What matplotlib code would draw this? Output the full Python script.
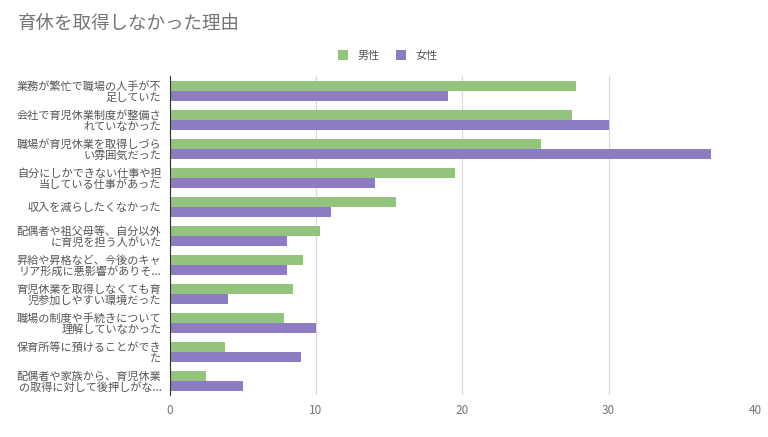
import numpy as np
import matplotlib.pyplot as plt

plt.rcParams['font.family'] = ['Noto Sans CJK JP', 'DejaVu Sans']

reasons = [
    '業務が繁忙で職場の人手が不\n足していた',
    '会社で育児休業制度が整備さ\nれていなかった',
    '職場が育児休業を取得しづら\nい雰囲気だった',
    '自分にしかできない仕事や担\n当している仕事があった',
    '収入を減らしたくなかった',
    '配偶者や祖父母等、自分以外\nに育児を担う人がいた',
    '昇給や昇格など、今後のキャ\nリア形成に悪影響がありそ...',
    '育児休業を取得しなくても育\n児参加しやすい環境だった',
    '職場の制度や手続きについて\n理解していなかった',
    '保育所等に預けることができ\nた',
    '配偶者や家族から、育児休業\nの取得に対して後押しがな...',
]
male = [27.8, 27.5, 25.4, 19.5, 15.5, 10.3, 9.1, 8.4, 7.8, 3.8, 2.5]
female = [19.0, 30.0, 37.0, 14.0, 11.0, 8.0, 8.0, 4.0, 10.0, 9.0, 5.0]
series_names = ['男性', '女性']
xticks = [0, 10, 20, 30, 40]

green = '#93c47d'
purple = '#8e7cc3'
grey = '#757575'

fig = plt.figure(figsize=(7.68, 4.37), dpi=100)
ax = fig.add_axes([0.221, 0.095, 0.762, 0.73])

y = np.arange(len(reasons))
h = 0.33
ax.barh(y - h / 2, male, height=h, color=green, label=series_names[0], zorder=3)
ax.barh(y + h / 2, female, height=h, color=purple, label=series_names[1], zorder=3)

ax.set_ylim(len(reasons) - 0.5, -0.5)
ax.set_xlim(0, 40)
ax.set_xticks(xticks)
ax.set_yticks(y)
ax.set_yticklabels(reasons, fontsize=8, color='#555555', linespacing=1.0)
ax.tick_params(axis='x', labelsize=8.5, colors=grey, length=0, pad=6)
ax.tick_params(axis='y', length=0, pad=6)
ax.grid(axis='x', color='#d9d9d9', linewidth=0.8, zorder=0)
for s in ['top', 'right', 'bottom']:
    ax.spines[s].set_visible(False)
ax.spines['left'].set_color('#333333')
ax.spines['left'].set_zorder(4)

fig.text(0.023, 0.945, '育休を取得しなかった理由', fontsize=13.3, color=grey, va='center')
fig.legend(loc='center', bbox_to_anchor=(0.505, 0.873), ncol=2, frameon=False,
           fontsize=8, handlelength=0.9, handleheight=0.9, columnspacing=1.5,
           labelcolor='#555555')

fig.savefig('out.png', dpi=100)
